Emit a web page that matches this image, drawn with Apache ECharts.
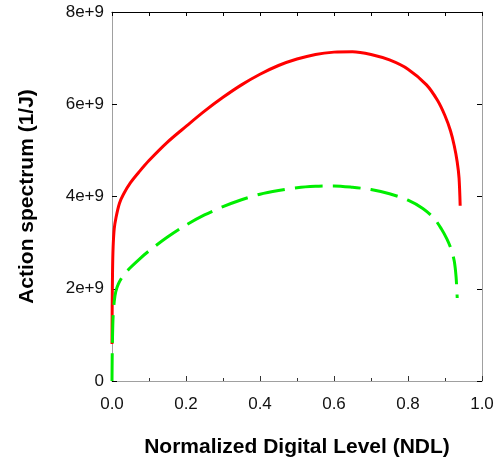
<!DOCTYPE html>
<html>
<head>
<meta charset="utf-8">
<script src="https://cdn.jsdelivr.net/npm/echarts@6/dist/echarts.min.js"></script>
<style>
html,body{margin:0;padding:0;background:#fff;}
#chart{width:502px;height:463px;}
</style>
</head>
<body>
<div id="chart"></div>
<script>
// Red solid curve
var ndlRed = [0, 0.0005, 0.0015, 0.003, 0.006, 0.011, 0.02, 0.031, 0.05, 0.075, 0.1, 0.15, 0.2, 0.25, 0.3, 0.35, 0.4, 0.45, 0.5, 0.55, 0.6, 0.65, 0.7, 0.75, 0.8, 0.85, 0.88, 0.9, 0.915, 0.925, 0.933, 0.938, 0.941];
var actRed = [0.8e9, 1.6e9, 2.4e9, 2.9e9, 3.3e9, 3.55e9, 3.85e9, 4.05e9, 4.3e9, 4.55e9, 4.78e9, 5.18e9, 5.52e9, 5.85e9, 6.15e9, 6.42e9, 6.65e9, 6.84e9, 6.98e9, 7.08e9, 7.13e9, 7.14e9, 7.08e9, 6.96e9, 6.76e9, 6.42e9, 6.08e9, 5.75e9, 5.42e9, 5.1e9, 4.75e9, 4.4e9, 3.8e9];
// Green dashed curve
var ndlGreen = [0, 0.0005, 0.0015, 0.003, 0.006, 0.01, 0.017, 0.03, 0.05, 0.075, 0.1, 0.15, 0.2, 0.25, 0.3, 0.35, 0.4, 0.45, 0.5, 0.55, 0.6, 0.65, 0.7, 0.75, 0.8, 0.84, 0.87, 0.89, 0.905, 0.917, 0.925, 0.93, 0.933];
var actGreen = [0, 0.5e9, 1.0e9, 1.4e9, 1.72e9, 1.93e9, 2.1e9, 2.28e9, 2.46e9, 2.65e9, 2.82e9, 3.12e9, 3.38e9, 3.6e9, 3.78e9, 3.93e9, 4.05e9, 4.13e9, 4.19e9, 4.22e9, 4.23e9, 4.2e9, 4.15e9, 4.06e9, 3.92e9, 3.74e9, 3.53e9, 3.3e9, 3.08e9, 2.85e9, 2.6e9, 2.25e9, 1.8e9];
var xTitle = 'Normalized Digital Level (NDL)';
var yTitle = 'Action spectrum (1/J)';

function pairs(xs, ys){ return xs.map(function(x,i){ return [x, ys[i]]; }); }
var FONT = 'Liberation Sans, Arial, sans-serif';

var chart = echarts.init(document.getElementById('chart'), null, {renderer:'canvas'});
chart.setOption({
  animation:false,
  backgroundColor:'#ffffff',
  grid:{left:112, top:12, width:370, height:371},
  xAxis:[{
    type:'value', position:'bottom', min:0, max:1, interval:0.2,
    axisLine:{show:true, onZero:false, lineStyle:{color:'#a0a0a0', width:1}},
    axisTick:{show:true, inside:true, length:5, lineStyle:{color:'#333'}},
    minorTick:{show:true, splitNumber:2, length:3, lineStyle:{color:'#333'}},
    splitLine:{show:false},
    axisLabel:{fontFamily:FONT, fontSize:17, color:'#111', margin:15, formatter:function(v){return v.toFixed(1);}},
    name:xTitle, nameLocation:'middle', nameGap:56,
    nameTextStyle:{fontFamily:FONT, fontSize:21, fontWeight:'bold', color:'#000'}
  },{
    type:'value', position:'top', min:0, max:1, interval:0.1,
    axisLine:{show:true, onZero:false, lineStyle:{color:'#000', width:1}},
    axisTick:{show:true, inside:true, length:4, lineStyle:{color:'#000'}},
    splitLine:{show:false},
    axisLabel:{show:false}
  }],
  yAxis:[{
    type:'value', position:'left', min:0, max:8e9, interval:2e9,
    axisLine:{show:true, onZero:false, lineStyle:{color:'#a0a0a0', width:1}},
    axisTick:{show:true, inside:true, length:5, lineStyle:{color:'#000'}},
    splitLine:{show:false},
    axisLabel:{fontFamily:FONT, fontSize:17, color:'#111', margin:8, formatter:function(v){return v===0?'0':(v/1e9)+'e+9';}},
    name:yTitle, nameLocation:'middle', nameGap:74,
    nameTextStyle:{fontFamily:FONT, fontSize:21, fontWeight:'bold', color:'#000'}
  },{
    type:'value', position:'right', min:0, max:8e9, interval:2e9,
    axisLine:{show:true, onZero:false, lineStyle:{color:'#a0a0a0', width:1}},
    axisTick:{show:true, inside:true, length:5, lineStyle:{color:'#000'}},
    splitLine:{show:false},
    axisLabel:{show:false}
  }],
  series:[{
    type:'line', xAxisIndex:0, yAxisIndex:0, data:pairs(ndlRed, actRed),
    showSymbol:false, smooth:0.3,
    lineStyle:{color:'#ff0000', width:3}
  },{
    type:'line', xAxisIndex:0, yAxisIndex:0, data:pairs(ndlGreen, actGreen),
    showSymbol:false, smooth:0.3,
    lineStyle:{color:'#00ee00', width:3, type:[28,10]}
  }]
});
</script>
</body>
</html>
